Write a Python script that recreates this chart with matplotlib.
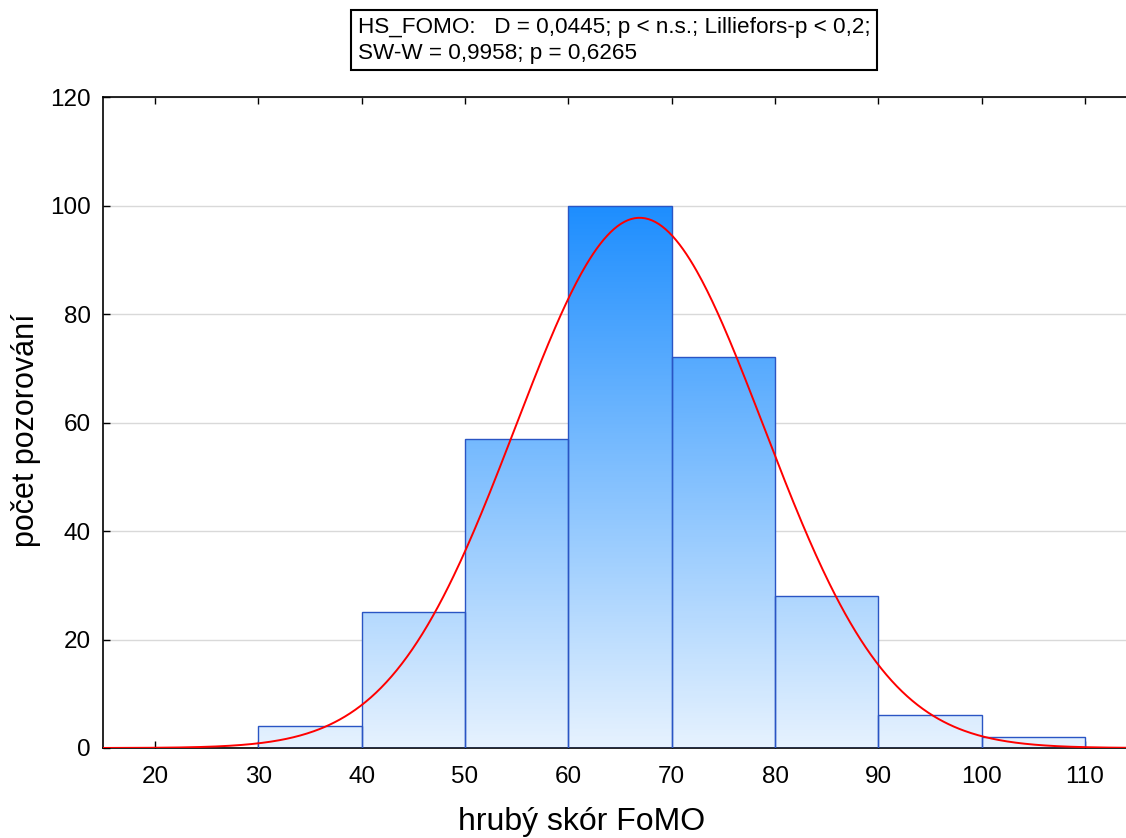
import matplotlib.pyplot as plt
import numpy as np
from matplotlib.colors import LinearSegmentedColormap

plt.rcParams['font.family'] = ['Liberation Sans', 'DejaVu Sans']

bin_left = [30, 40, 50, 60, 70, 80, 90, 100]
counts = [4, 25, 57, 100, 72, 28, 6, 2]
bin_width = 10

# fitted normal curve parameters
fit_mean = 66.9
fit_sd = 12.0

xticks = [20, 30, 40, 50, 60, 70, 80, 90, 100, 110]
yticks = [0, 20, 40, 60, 80, 100, 120]

title_txt = "HS_FOMO:   D = 0,0445; p < n.s.; Lilliefors-p < 0,2;\nSW-W = 0,9958; p = 0,6265"


def main():
    fig = plt.figure(figsize=(11.26, 8.38), dpi=100)
    ax = fig.add_axes([0.0918, 0.1074, 0.9177, 0.7768])

    cmap = LinearSegmentedColormap.from_list('bl', ['#E6F2FE', '#1E8EFF'])

    bars = ax.bar(bin_left, counts, width=bin_width, align='edge',
                  facecolor='none', edgecolor='#2A55C4', linewidth=1.0, zorder=3)

    for rect, h in zip(bars, counts):
        x0 = rect.get_x()
        grad = np.linspace(0, h, 200).reshape(-1, 1)
        im = ax.imshow(grad, extent=(x0, x0 + bin_width, 0, h), origin='lower',
                       cmap=cmap, vmin=0, vmax=max(counts), aspect='auto',
                       zorder=2, interpolation='bilinear')
        im.set_clip_path(rect)

    n = sum(counts)
    xs = np.linspace(15, 115, 600)
    ys = n * bin_width / (fit_sd * np.sqrt(2 * np.pi)) * np.exp(-0.5 * ((xs - fit_mean) / fit_sd) ** 2)
    ax.plot(xs, ys, color='#FF0000', linewidth=1.4, zorder=4)

    ax.set_xlim(15, 115)
    ax.set_ylim(0, 120)
    ax.set_xticks(xticks)
    ax.set_yticks(yticks)
    ax.yaxis.grid(True, color='#D9D9D9', linewidth=1.0, zorder=0)
    ax.set_axisbelow(True)

    ax.tick_params(axis='both', direction='in', labelsize=17.5, length=5, width=1,
                   top=True, pad=9)
    ax.tick_params(axis='x', pad=13)
    ax.spines['right'].set_visible(False)
    for s in ['left', 'bottom', 'top']:
        ax.spines[s].set_linewidth(1.2)

    ax.set_xlabel('hrubý skór FoMO', fontsize=23)
    ax.xaxis.set_label_coords(0.4626, -0.090)
    ax.set_ylabel('počet pozorování', fontsize=22)
    ax.yaxis.set_label_coords(-0.060, 0.488)

    fig.text(0.318, 0.952, title_txt, fontsize=16.2, ha='left', va='center',
             linespacing=1.3,
             bbox=dict(boxstyle='square,pad=0.3', facecolor='white',
                       edgecolor='black', linewidth=1.5))

    fig.savefig('out.png', dpi=100)


if __name__ == '__main__':
    main()
